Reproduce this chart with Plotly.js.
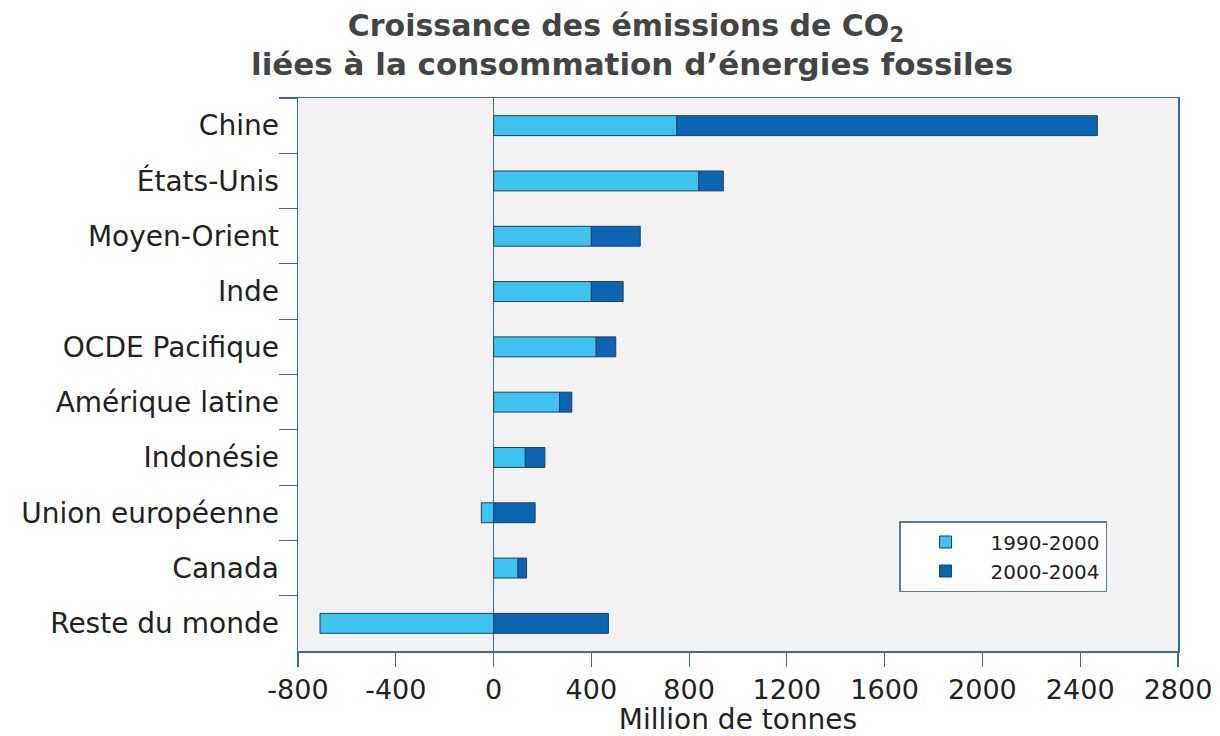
<!DOCTYPE html>
<html><head><meta charset="utf-8">
<script src="https://cdn.plot.ly/plotly-3.0.1.min.js"></script>
<style>html,body{margin:0;padding:0;background:#fff}</style>
</head><body><div id="chart" style="width:1220px;height:736px"></div>
<script>
const categories = ["Chine","États-Unis","Moyen-Orient","Inde","OCDE Pacifique","Amérique latine","Indonésie","Union européenne","Canada","Reste du monde"];
const growth1990_2000 = [750, 840, 400, 400, 420, 270, 130, -50, 100, -710];
const growth2000_2004 = [1720, 100, 200, 130, 80, 50, 80, 170, 35, 470];
const seriesNames = ["1990-2000", "2000-2004"];
const xTicks = [-800,-400,0,400,800,1200,1600,2000,2400,2800];
const titleLine1 = "<b>Croissance des émissions de CO<sub>2</sub></b>";
const titleLine2 = "<b>liées à la consommation d’énergies fossiles</b>";

const FONT = "DejaVu Sans, Liberation Sans, Arial, sans-serif";
const axisColor = "#3f6a96";
const traces = [
  {type:"bar", orientation:"h", y:categories, x:growth1990_2000, name:seriesNames[0], width:0.36, legendgroup:"a",
   marker:{color:"#3ec3ef", line:{color:"#1d3f66", width:1}}},
  {type:"bar", orientation:"h", y:categories, x:growth2000_2004, name:seriesNames[1], width:0.36, legendgroup:"b",
   marker:{color:"#0b65b3", line:{color:"#1d3f66", width:1}}}
];
const layout = {
  width:1220, height:736,
  margin:{l:298, r:42, t:98, b:85},
  paper_bgcolor:"#ffffff", plot_bgcolor:"#f2f2f2",
  barmode:"relative",
  font:{family:FONT, color:"#222"},
  title:{text:titleLine1, x:0.513, xanchor:"center", yref:"container", y:1 - 25/736, yanchor:"middle",
         font:{size:30, color:"#444", family:FONT}},
  annotations:[{text:titleLine2, xref:"paper", yref:"paper", x:0.38, y:1 + (98 - 64)/553,
                xanchor:"center", yanchor:"middle", showarrow:false,
                font:{size:31, color:"#444", family:FONT}}],
  xaxis:{range:[-800,2800], tickvals:xTicks, ticktext:xTicks.map(String),
         showgrid:false, zeroline:true, zerolinecolor:axisColor, zerolinewidth:1.5,
         showline:true, linecolor:axisColor, linewidth:1.5, mirror:true,
         ticks:"outside", ticklen:14, tickcolor:axisColor, tickwidth:1.2,
         tickfont:{size:27, color:"#222"},
         title:{text:"Million de tonnes", font:{size:28, color:"#222"}, standoff:4}},
  yaxis:{type:"category", autorange:false, range:[9.5,-0.5], categoryorder:"array", categoryarray:categories,
         showgrid:false, zeroline:false, showline:true, linecolor:axisColor, linewidth:1.5, mirror:true,
         ticks:"outside", tickson:"boundaries", ticklen:18, tickcolor:axisColor, tickwidth:1.2,
         tickfont:{size:28, color:"#222"}, ticklabelstandoff:12},
  legend:{x:0.683, xanchor:"left", y:(651 - 521)/553, yanchor:"top", bgcolor:"#ffffff",
          bordercolor:"#5f7a96", borderwidth:1.5, font:{size:20, color:"#222"},
          tracegroupgap:10, itemwidth:80, traceorder:"normal"},
  showlegend:true
};
Plotly.newPlot("chart", traces, layout, {displayModeBar:false, staticPlot:true});
</script></body></html>
